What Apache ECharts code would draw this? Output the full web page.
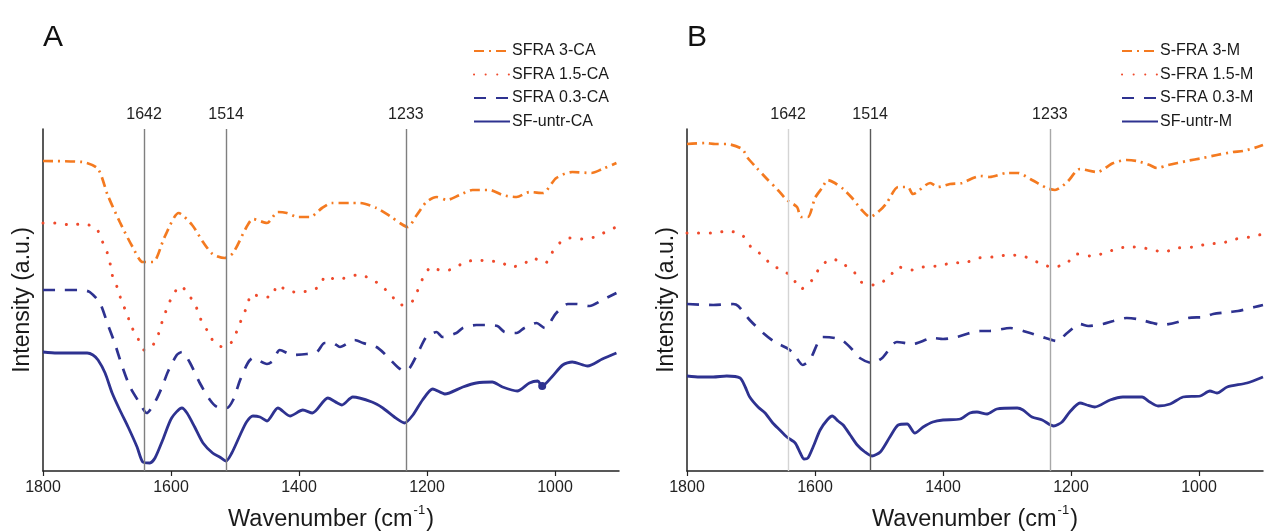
<!DOCTYPE html>
<html>
<head>
<meta charset="utf-8">
<script src="https://cdn.jsdelivr.net/npm/echarts@6/dist/echarts.min.js"></script>
<style>
  html, body { margin: 0; padding: 0; background: #fff; }
  #main { width: 1265px; height: 531px; }
</style>
</head>
<body>
<div id="main"></div>
<script>
  // wavenumber ticks and marked peaks
  const tickValues = [1800, 1600, 1400, 1200, 1000];
  const peaks = [1642, 1514, 1233];

  // panel A spectra: [wavenumber, intensity a.u.]
  const sfra3CA = [[1800,310],[1738,309],[1714,302],[1699,276],[1680,249],[1660,224],[1644,209],[1628,209],[1610,234],[1588,258],[1567,246],[1550,229],[1535,217],[1516,213],[1503,218],[1482,244],[1472,252],[1450,248],[1433,259],[1419,258],[1402,254],[1383,254],[1364,263],[1349,268],[1321,268],[1305,268],[1279,263],[1258,255],[1240,247],[1230,244],[1216,256],[1201,269],[1185,274],[1169,271],[1149,276],[1129,281],[1102,281],[1082,276],[1060,274],[1040,279],[1019,278],[998,293],[973,299],[943,298],[926,302],[904,308]];
  const sfra15CA = [[1800,248],[1777,248],[1758,246],[1738,247],[1717,243],[1709,232],[1700,219],[1695,207],[1691,194],[1683,182],[1677,169],[1669,158],[1663,146],[1652,133],[1642,121],[1627,127],[1619,138],[1613,151],[1606,163],[1597,176],[1585,185],[1571,175],[1560,163],[1553,151],[1542,139],[1533,129],[1519,124],[1505,129],[1497,140],[1489,153],[1481,165],[1474,177],[1457,174],[1444,174],[1433,186],[1418,180],[1404,179],[1386,180],[1369,184],[1358,195],[1340,191],[1324,194],[1308,196],[1290,193],[1271,185],[1255,175],[1241,166],[1224,169],[1215,180],[1207,192],[1193,204],[1176,200],[1160,202],[1143,208],[1124,211],[1104,210],[1085,209],[1069,204],[1049,207],[1035,213],[1015,208],[1005,218],[991,229],[977,233],[957,232],[938,234],[918,240],[904,244]];
  const sfra03CA = [[1800,181],[1769,181],[1739,181],[1727,179],[1711,168],[1699,147],[1688,128],[1677,106],[1664,84],[1649,68],[1638,58],[1625,69],[1614,84],[1605,99],[1591,116],[1583,119],[1571,109],[1555,88],[1539,71],[1528,64],[1513,63],[1503,71],[1492,91],[1480,108],[1472,113],[1450,107],[1441,110],[1430,121],[1410,116],[1388,117],[1372,119],[1360,128],[1347,128],[1336,124],[1313,131],[1300,128],[1279,124],[1266,117],[1246,104],[1236,100],[1227,103],[1212,121],[1201,134],[1185,139],[1176,134],[1154,138],[1144,143],[1123,146],[1110,146],[1090,145],[1079,139],[1060,138],[1048,143],[1029,148],[1016,143],[998,158],[980,167],[966,167],[946,165],[926,171],[904,178]];
  const sfUntrCA = [[1800,119],[1778,118],[1731,118],[1722,116],[1714,111],[1703,98],[1692,78],[1680,61],[1667,44],[1653,24],[1644,9],[1633,8],[1625,13],[1613,31],[1599,53],[1583,63],[1575,58],[1563,44],[1550,28],[1535,18],[1524,14],[1514,10],[1505,18],[1492,36],[1482,49],[1472,55],[1461,54],[1450,50],[1433,63],[1414,55],[1394,61],[1379,58],[1355,73],[1340,68],[1333,66],[1316,74],[1286,69],[1269,63],[1251,54],[1235,48],[1222,56],[1207,71],[1191,82],[1172,77],[1144,84],[1123,88],[1098,89],[1082,84],[1059,80],[1040,88],[1027,90],[1020,85],[1005,94],[988,106],[973,109],[949,105],[926,112],[904,118]];

  // panel B spectra
  const sfra3M = [[1800,327],[1772,328],[1756,327],[1738,327],[1714,322],[1705,313],[1691,303],[1675,292],[1658,281],[1644,271],[1628,264],[1622,254],[1611,254],[1600,273],[1589,283],[1580,291],[1569,288],[1556,282],[1542,273],[1527,261],[1514,254],[1498,261],[1488,268],[1470,284],[1455,284],[1447,277],[1420,288],[1408,284],[1389,287],[1370,288],[1353,293],[1342,295],[1327,294],[1300,298],[1283,298],[1261,291],[1238,283],[1225,281],[1206,289],[1186,302],[1159,299],[1134,308],[1113,311],[1097,310],[1077,306],[1066,303],[1048,306],[1019,310],[994,313],[972,316],[947,319],[931,320],[909,324],[900,326]];
  const sfra15M = [[1800,238],[1784,238],[1761,238],[1736,240],[1714,236],[1700,224],[1683,216],[1666,205],[1650,201],[1634,192],[1622,182],[1603,192],[1591,205],[1572,212],[1556,207],[1539,199],[1528,189],[1506,186],[1484,194],[1470,204],[1448,201],[1431,204],[1409,205],[1386,208],[1362,209],[1345,213],[1322,214],[1298,216],[1275,215],[1253,209],[1230,204],[1208,207],[1191,217],[1169,215],[1147,218],[1125,223],[1102,224],[1077,222],[1056,219],[1033,223],[1009,224],[986,227],[964,228],[942,232],[920,234],[900,237]];
  const sfra03M = [[1800,167],[1759,166],[1728,167],[1720,165],[1702,151],[1681,138],[1663,129],[1644,123],[1634,118],[1619,106],[1608,111],[1588,134],[1569,133],[1556,130],[1541,121],[1530,113],[1511,108],[1495,113],[1472,129],[1447,127],[1416,133],[1400,132],[1378,134],[1358,138],[1342,140],[1327,140],[1295,143],[1264,138],[1245,134],[1222,130],[1206,138],[1186,147],[1173,145],[1150,147],[1134,150],[1113,153],[1097,152],[1072,148],[1058,146],[1033,149],[1017,153],[991,154],[978,157],[952,159],[939,160],[913,164],[900,166]];
  const sfUntrM = [[1800,95],[1780,94],[1759,94],[1738,95],[1717,93],[1709,84],[1702,74],[1689,64],[1678,58],[1666,48],[1655,41],[1644,34],[1631,28],[1623,18],[1617,12],[1611,13],[1603,24],[1592,41],[1581,51],[1573,55],[1564,50],[1556,46],[1545,36],[1534,26],[1522,19],[1511,15],[1498,19],[1483,34],[1470,46],[1456,47],[1444,38],[1431,44],[1416,49],[1400,51],[1373,52],[1358,58],[1347,59],[1331,57],[1316,62],[1284,63],[1275,61],[1261,54],[1245,51],[1227,45],[1214,49],[1202,59],[1186,68],[1175,66],[1163,64],[1139,71],[1119,74],[1089,74],[1077,69],[1064,65],[1045,67],[1025,74],[998,75],[983,80],[972,78],[956,84],[925,88],[900,94]];

  const FONT = '"Liberation Sans", Arial, sans-serif';
  const ORANGE = '#f47a20';
  const RED = '#ef4a2c';
  const NAVY = '#2e3290';

  const styles = {
    dashdot: { color: ORANGE, width: 2.7, type: [10, 5, 2, 5] },
    dotted: { color: RED, width: 3, type: [0.1, 11.5], cap: 'round' },
    dashed: { color: NAVY, width: 2.7, type: [12, 10] },
    solid: { color: NAVY, width: 2.8, type: 'solid' }
  };

  const xAxisFor = (gi) => ({
    type: 'value',
    gridIndex: gi,
    inverse: true,
    min: 900,
    max: 1800,
    name: '{a|Wavenumber (cm}{s|-1}{a|)}',
    nameLocation: 'middle',
    nameGap: 33,
    nameTextStyle: {
      rich: {
        a: { fontSize: 23.5, fontFamily: FONT, color: '#1a1a1a', lineHeight: 28, verticalAlign: 'bottom' },
        s: { fontSize: 13, fontFamily: FONT, color: '#1a1a1a', lineHeight: 28, verticalAlign: 'top', padding: [0, 1, 0, 1] }
      }
    },
    axisLine: { show: true, onZero: false, lineStyle: { color: '#222', width: 1.5 } },
    axisTick: { show: true, length: 5, customValues: tickValues, lineStyle: { color: '#222', width: 1.2 } },
    axisLabel: { customValues: tickValues, formatter: (v) => String(v), fontSize: 16, fontFamily: FONT, color: '#222', margin: 9 },
    splitLine: { show: false }
  });

  const yAxisFor = (gi) => ({
    type: 'value',
    gridIndex: gi,
    min: 0,
    max: 342,
    name: 'Intensity (a.u.)',
    nameLocation: 'middle',
    nameGap: 9,
    nameTextStyle: { fontSize: 23, fontFamily: FONT, color: '#1a1a1a' },
    axisLine: { show: true, lineStyle: { color: '#222', width: 1.5 } },
    axisTick: { show: false },
    axisLabel: { show: false },
    splitLine: { show: false }
  });

  const mk = (name, data, style, gi, extra) => Object.assign({
    name: name,
    type: 'line',
    xAxisIndex: gi,
    yAxisIndex: gi,
    data: data,
    symbol: 'none',
    smooth: 0.25,
    lineStyle: style,
    itemStyle: { color: style.color },
    animation: false
  }, extra || {});

  const peakLines = (colors) => ({
    silent: true,
    symbol: ['none', 'none'],
    label: { show: true, position: 'end', distance: 6, fontSize: 16, fontFamily: FONT, color: '#222', formatter: '{c}' },
    data: peaks.map((p, i) => ({ xAxis: p, lineStyle: { color: colors[i], width: 1.4, type: 'solid' } }))
  });

  const untrA = sfUntrCA.map(d => d[0] === 1020 ? { value: d, symbol: 'circle', symbolSize: 8 } : d);

  const legendFor = (names, left) => ({
    data: names,
    orient: 'vertical',
    left: left,
    top: 38,
    itemWidth: 36,
    itemHeight: 14,
    itemGap: 7.5,
    itemStyle: { opacity: 0 },
    textStyle: { fontSize: 16, fontFamily: FONT, color: '#1a1a1a', padding: [0, 0, 0, -3] }
  });

  const chart = echarts.init(document.getElementById('main'));
  chart.setOption({
    backgroundColor: '#fff',
    title: [
      { text: 'A', left: 38, top: 18, textStyle: { fontSize: 30, fontWeight: 'normal', fontFamily: FONT, color: '#111' } },
      { text: 'B', left: 682, top: 18, textStyle: { fontSize: 30, fontWeight: 'normal', fontFamily: FONT, color: '#111' } }
    ],
    legend: [
      legendFor(['SFRA 3-CA', 'SFRA 1.5-CA', 'SFRA 0.3-CA', 'SF-untr-CA'], 468),
      legendFor(['S-FRA 3-M', 'S-FRA 1.5-M', 'S-FRA 0.3-M', 'SF-untr-M'], 1116)
    ],
    grid: [
      { left: 43, width: 576, top: 129, height: 342, outerBoundsMode: 'none' },
      { left: 687, width: 576, top: 129, height: 342, outerBoundsMode: 'none' }
    ],
    xAxis: [xAxisFor(0), xAxisFor(1)],
    yAxis: [yAxisFor(0), yAxisFor(1)],
    series: [
      mk('SFRA 3-CA', sfra3CA, styles.dashdot, 0),
      mk('SFRA 1.5-CA', sfra15CA, styles.dotted, 0),
      mk('SFRA 0.3-CA', sfra03CA, styles.dashed, 0),
      mk('SF-untr-CA', untrA, styles.solid, 0, { markLine: peakLines(['#7f7f7f', '#7f7f7f', '#7f7f7f']) }),
      mk('S-FRA 3-M', sfra3M, styles.dashdot, 1),
      mk('S-FRA 1.5-M', sfra15M, styles.dotted, 1),
      mk('S-FRA 0.3-M', sfra03M, styles.dashed, 1),
      mk('SF-untr-M', sfUntrM, styles.solid, 1, { markLine: peakLines(['#d4d4d4', '#5a5a5a', '#a8a8a8']) })
    ]
  });
</script>
</body>
</html>
